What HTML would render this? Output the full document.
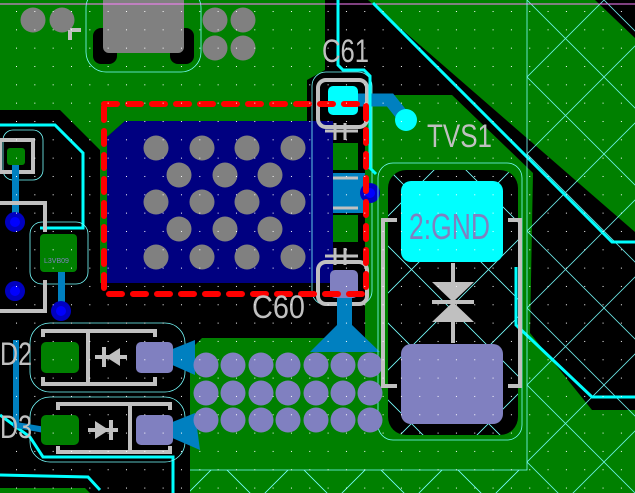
<!DOCTYPE html>
<html><head><meta charset="utf-8"><style>
html,body{margin:0;padding:0;background:#000;}
svg{display:block}
text{font-family:"Liberation Sans",sans-serif;}
</style></head><body>
<svg width="635" height="493" viewBox="0 0 635 493" xmlns="http://www.w3.org/2000/svg">
<defs>
<pattern id="dots" x="16" y="11" width="18.33" height="18.33" patternUnits="userSpaceOnUse"><rect x="0" y="0" width="1" height="1" fill="#fff"/></pattern>
<pattern id="hatch" x="527" y="0" width="77" height="77" patternUnits="userSpaceOnUse"><path d="M0,0L77,77M77,0L0,77" stroke="#7ff" stroke-width="0.8" fill="none"/></pattern>
</defs>
<rect width="635" height="493" fill="#000"/>
<!-- green copper -->
<g fill="#008000">
<polygon points="0,0 325,0 325,70 307,80 307,121 125,121 107,137 107,283 100,283 100,150 60,110 0,110"/>
<polygon points="368,0 595,0 635,38 635,232"/>
<polygon points="190,350 202,338 365,338 365,95 452,95 533,173 530,333 592,410 635,410 635,493 190,493"/>
<polygon points="0,488 85,488 90,493 0,493"/>
</g>
<rect x="527" y="0" width="108" height="493" fill="url(#hatch)" opacity="0.9"/>
<rect x="190" y="470" width="337" height="23" fill="url(#hatch)"/>
<!-- TVS black interior -->
<rect x="388" y="170" width="130" height="265" rx="18" fill="#000"/>
<rect x="388" y="170" width="130" height="265" rx="18" fill="url(#hatch)"/>
<!-- top gray component -->
<rect x="86" y="-12" width="115" height="84" rx="20" fill="none" stroke="#7ff" stroke-width="0.8"/>
<rect x="93" y="28" width="24" height="36" rx="8" fill="#000"/>
<rect x="170" y="28" width="24" height="36" rx="8" fill="#000"/>
<rect x="103" y="-5" width="81" height="58" rx="6" fill="#808080"/>
<g fill="#808080">
<circle cx="33" cy="20" r="12.5"/><circle cx="62" cy="20" r="12.5"/>
<circle cx="215" cy="20" r="12.5"/><circle cx="243" cy="20" r="12.5"/>
<circle cx="215" cy="48" r="12.5"/><circle cx="243" cy="48" r="12.5"/>
</g>
<path d="M70,30 L81,30 M70,30 L70,40" stroke="#c0c0c0" stroke-width="4"/>
<line x1="0" y1="4" x2="635" y2="4" stroke="#ff80ff" stroke-width="1"/>
<!-- navy area -->
<polygon points="125,121 333,121 333,283 107,283 107,137" fill="#000080"/>
<g fill="#808080">
<circle cx="156" cy="148" r="12.5"/><circle cx="202" cy="148" r="12.5"/><circle cx="247" cy="148" r="12.5"/><circle cx="293" cy="148" r="12.5"/>
<circle cx="179" cy="175" r="12.5"/><circle cx="225" cy="175" r="12.5"/><circle cx="270" cy="175" r="12.5"/>
<circle cx="156" cy="202" r="12.5"/><circle cx="202" cy="202" r="12.5"/><circle cx="247" cy="202" r="12.5"/><circle cx="293" cy="202" r="12.5"/>
<circle cx="179" cy="229" r="12.5"/><circle cx="225" cy="229" r="12.5"/><circle cx="270" cy="229" r="12.5"/>
<circle cx="156" cy="257" r="12.5"/><circle cx="202" cy="257" r="12.5"/><circle cx="247" cy="257" r="12.5"/><circle cx="293" cy="257" r="12.5"/>
</g>
<!-- C61 / C60 column -->
<rect x="312" y="72" width="60" height="233" rx="14" fill="none" stroke="#7ff" stroke-width="0.8"/>
<rect x="333" y="143" width="25" height="27" fill="#008000"/>
<rect x="333" y="215" width="25" height="27" fill="#008000"/>
<rect x="333" y="173" width="32" height="40" fill="#0080c0"/>
<line x1="333" y1="178" x2="358" y2="178" stroke="#c0c0c0" stroke-width="3"/>
<line x1="333" y1="208" x2="358" y2="208" stroke="#c0c0c0" stroke-width="3"/>
<circle cx="370" cy="193" r="10" fill="#0000c0"/><circle cx="370" cy="193" r="5" fill="#0000ff"/>
<path d="M345,100 L390,100 L406,120" stroke="#0080c0" stroke-width="13" fill="none"/>
<circle cx="406" cy="120" r="11" fill="#00ffff"/>
<rect x="318" y="80" width="49" height="47" rx="8" fill="none" stroke="#c0c0c0" stroke-width="4"/>
<rect x="328" y="86" width="30" height="29" rx="5" fill="#00ffff"/>
<path d="M335,123 L335,140 M345,123 L345,140 M325,131 L358,131" stroke="#c0c0c0" stroke-width="3"/>
<path d="M335,248 L335,265 M345,248 L345,265 M325,256 L358,256" stroke="#c0c0c0" stroke-width="3"/>
<rect x="318" y="262" width="49" height="42" rx="8" fill="none" stroke="#c0c0c0" stroke-width="4"/>
<polygon points="337,298 352,298 352,325 380,352 310,352 337,325" fill="#0080c0"/>
<rect x="330" y="270" width="28" height="28" rx="5" fill="#8080c0"/>
<!-- cyan traces -->
<g fill="none" stroke="#00ffff" stroke-width="3">
<path d="M338,0 L338,65 L343,70 L364,70 L370,76 L370,168 L376,174"/>
<path d="M373,3 L612,242 L635,242"/>
<path d="M516,267 L516,325 L592,397 L635,397"/>
<path d="M0,125 L55,125 L83,153 L83,228 L40,228"/>
<path d="M0,415 L30,437 L43,457 L173,457 L173,493"/>
<path d="M0,475 L88,477 L100,490"/>
</g>
<g fill="none" stroke="#7ff" stroke-width="0.8">
<path d="M527,0 L527,470 L190,470"/>
<rect x="30" y="323" width="155" height="69" rx="20"/>
<rect x="30" y="397" width="155" height="65" rx="20"/>
<rect x="378" y="163" width="144" height="277" rx="15"/>
<rect x="3" y="130" width="40" height="50" rx="10"/>
<rect x="30" y="222" width="58" height="62" rx="12"/>
</g>
<!-- left components -->
<rect x="0" y="140" width="33" height="32" fill="none" stroke="#c0c0c0" stroke-width="4"/>
<rect x="12" y="165" width="7" height="60" fill="#0080c0"/>
<rect x="7" y="148" width="18" height="17" rx="3" fill="#008000"/>
<rect x="58" y="270" width="7" height="40" fill="#0080c0"/>
<path d="M0,203 L45,203 L45,232" stroke="#c0c0c0" stroke-width="4" fill="none"/>
<path d="M0,311 L45,311 L45,280" stroke="#c0c0c0" stroke-width="4" fill="none"/>
<rect x="40" y="234" width="37" height="38" rx="4" fill="#008000"/>
<text x="44" y="263" font-size="7" fill="#8080c0">L3VB09</text>
<circle cx="15" cy="222" r="10" fill="#0000c0"/><circle cx="15" cy="222" r="5" fill="#0000ff"/>
<circle cx="15" cy="291" r="10" fill="#0000c0"/><circle cx="15" cy="291" r="5" fill="#0000ff"/>
<circle cx="61" cy="311" r="10" fill="#0000c0"/><circle cx="61" cy="311" r="5" fill="#0000ff"/>
<path d="M16,340 L16,425 L45,430" stroke="#0080c0" stroke-width="6" fill="none"/>
<!-- blue traces to vias -->
<polygon points="170,350 195,340 195,375 170,364" fill="#0080c0"/>
<polygon points="170,423 195,413 200,450 170,437" fill="#0080c0"/>
<!-- via array -->
<g fill="#8080c0">
<circle cx="206" cy="365" r="12.5"/><circle cx="233" cy="365" r="12.5"/><circle cx="261" cy="365" r="12.5"/><circle cx="288" cy="365" r="12.5"/><circle cx="316" cy="365" r="12.5"/><circle cx="343" cy="365" r="12.5"/><circle cx="370" cy="365" r="12.5"/>
<circle cx="206" cy="393" r="12.5"/><circle cx="233" cy="393" r="12.5"/><circle cx="261" cy="393" r="12.5"/><circle cx="288" cy="393" r="12.5"/><circle cx="316" cy="393" r="12.5"/><circle cx="343" cy="393" r="12.5"/><circle cx="370" cy="393" r="12.5"/>
<circle cx="206" cy="420" r="12.5"/><circle cx="233" cy="420" r="12.5"/><circle cx="261" cy="420" r="12.5"/><circle cx="288" cy="420" r="12.5"/><circle cx="316" cy="420" r="12.5"/><circle cx="343" cy="420" r="12.5"/><circle cx="370" cy="420" r="12.5"/>
</g>
<!-- D2 -->
<g stroke="#c0c0c0" stroke-width="4" fill="none">
<path d="M43,337 L43,331 L155,331 L155,337"/><path d="M43,377 L43,384 L155,384 L155,377"/>
<line x1="88" y1="331" x2="88" y2="384"/>
<path d="M58,410 L58,404 L170,404 L170,410"/><path d="M58,446 L58,452 L170,452 L170,446"/>
<line x1="130" y1="404" x2="130" y2="452"/>
<line x1="95" y1="357" x2="127" y2="357"/><line x1="104" y1="347" x2="104" y2="367"/>
<line x1="88" y1="430" x2="118" y2="430"/><line x1="111" y1="420" x2="111" y2="440"/>
</g>
<polygon points="106,357 120,348 120,366" fill="#c0c0c0"/>
<polygon points="109,430 95,421 95,439" fill="#c0c0c0"/>
<rect x="41" y="342" width="38" height="31" rx="5" fill="#008000"/>
<rect x="136" y="342" width="37" height="31" rx="5" fill="#8080c0"/>
<rect x="41" y="415" width="38" height="30" rx="5" fill="#008000"/>
<rect x="136" y="415" width="37" height="30" rx="5" fill="#8080c0"/>
<!-- TVS1 -->
<rect x="401" y="181" width="102" height="81" rx="10" fill="#00ffff"/>
<rect x="401" y="344" width="102" height="80" rx="10" fill="#8080c0"/>
<g stroke="#c0c0c0" stroke-width="4" fill="none">
<path d="M397,220 L383,220 L383,386 L397,386"/>
<path d="M508,220 L520,220 L520,386 L508,386"/>
<line x1="453" y1="263" x2="453" y2="343"/>
<line x1="432" y1="302" x2="474" y2="302"/>
</g>
<polygon points="432,282 474,282 453,302" fill="#c0c0c0"/>
<polygon points="432,322 474,322 453,302" fill="#c0c0c0"/>
<text x="409" y="239" font-size="36" fill="#8080c0" textLength="81" lengthAdjust="spacingAndGlyphs">2:GND</text>
<!-- red dashed -->
<rect x="104" y="104" width="262" height="190" fill="none" stroke="#ff0000" stroke-width="6" stroke-dasharray="13 11" stroke-linecap="round"/>
<!-- labels -->
<g fill="#c0c0c0" font-size="32">
<text x="322" y="62" textLength="47" lengthAdjust="spacingAndGlyphs">C61</text>
<text x="427" y="147" textLength="65" lengthAdjust="spacingAndGlyphs">TVS1</text>
<text x="252" y="318" textLength="53" lengthAdjust="spacingAndGlyphs">C60</text>
<text x="0" y="365" textLength="32" lengthAdjust="spacingAndGlyphs">D2</text>
<text x="0" y="438" textLength="32" lengthAdjust="spacingAndGlyphs">D3</text>
</g>
<rect width="635" height="493" fill="url(#dots)"/>
</svg>
</body></html>
